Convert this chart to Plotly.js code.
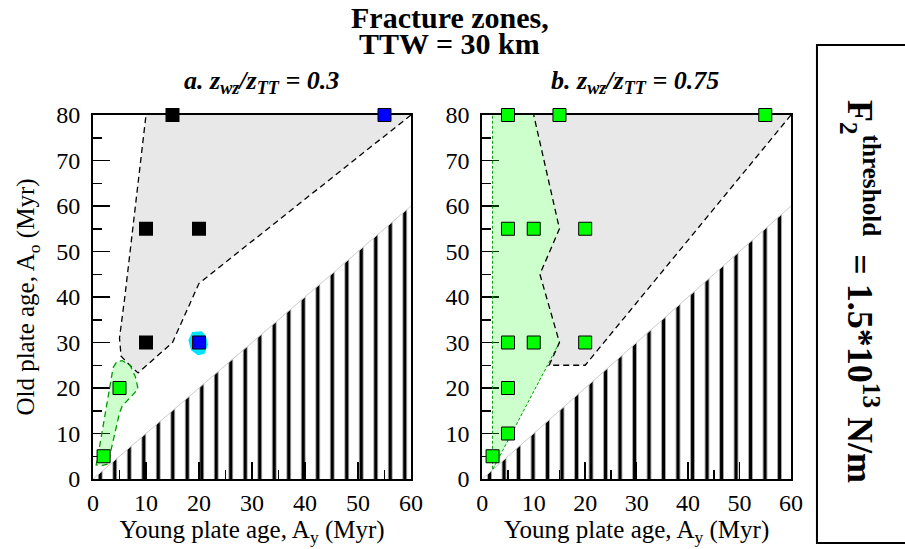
<!DOCTYPE html>
<html>
<head>
<meta charset="utf-8">
<script src="https://cdn.plot.ly/plotly-3.0.1.min.js"></script>
<style>html,body{margin:0;padding:0;background:#fff;}#chart{width:905px;height:549px;}</style>
</head>
<body>
<div id="chart"></div>
<script>
// ---------- data ----------
// Panel a (z_wz/z_TT = 0.3)
const aBlackX = [15, 10, 20, 10];
const aBlackY = [80, 55, 55, 30];
const aBlueX = [55, 20];
const aBlueY = [80, 30];
const aGreenX = [5, 2];
const aGreenY = [20, 5];
const aGrayRegionX = [10, 60, 20, 15, 8.5, 6.5, 5.3, 5, 6, 10];
const aGrayRegionY = [80, 80, 43, 30, 23.3, 25.5, 27, 31, 40, 80];
const aGreenRegionX = [3.8, 4.5, 5.5, 7, 8, 8.5, 7.5, 5.5, 5, 3.3, 2.8, 1.8, 0.6, 1, 3.8];
const aGreenRegionY = [24.5, 25.8, 26, 25, 22.5, 19.8, 18.5, 16, 14.5, 6, 3.3, 3, 3.1, 5.5, 24.5];
const aCyanRegionX = [18.7, 20.5, 21.3, 21.7, 21, 19.8, 18.5, 18, 18.7];
const aCyanRegionY = [32.3, 32.5, 31.5, 29.5, 27.5, 27.2, 28.3, 30.5, 32.3];

// Panel b (z_wz/z_TT = 0.75)
const bGreenX = [5, 15, 55, 5, 10, 20, 5, 10, 20, 5, 5, 2];
const bGreenY = [80, 80, 80, 55, 55, 55, 30, 30, 30, 20, 10, 5];
const bGrayRegionX = [10, 60, 20, 13, 15, 11.2, 15, 10];
const bGrayRegionY = [80, 80, 25, 25, 30, 45, 55, 80];
const bGreenRegionX = [2, 10, 15, 11.2, 15, 2, 2];
const bGreenRegionY = [80, 80, 55, 45, 30, 2, 80];

// Excluded zone (A_o < A_y) and diagonal
const hatchX = [0, 60, 60, 0];
const hatchY = [0, 60, 0, 0];
const diagX = [0, 60];
const diagY = [0, 60];

// Axis ranges / ticks
const xRange = [0, 60];
const yRange = [0, 80];
const majorStep = 10;
const minorStep = 5;

// ---------- styling ----------
const FONT = '"Liberation Serif", "Times New Roman", Times, serif';
const GRAY_FILL = 'rgba(0,0,0,0.09)';
const GREEN_FILL = 'rgba(0,255,0,0.2)';
const dashBlack = {color: 'black', width: 1.3, dash: '6px,4px'};
const dashGreenA = {color: '#009900', width: 1.3, dash: '6px,4px'};
const dashGreenB = {color: '#009900', width: 1, dash: '3px,2px'};

function fillTrace(x, y, color, xa, ya) {
  return {x, y, xaxis: xa, yaxis: ya, type: 'scatter', mode: 'lines', fill: 'toself',
    fillcolor: color, line: {width: 0, color: 'rgba(0,0,0,0)'}, hoverinfo: 'skip'};
}
function lineTrace(x, y, line, xa, ya) {
  return {x, y, xaxis: xa, yaxis: ya, type: 'scatter', mode: 'lines', line, hoverinfo: 'skip'};
}
function markerTrace(x, y, color, outline, size, xa, ya) {
  return {x, y, xaxis: xa, yaxis: ya, type: 'scatter', mode: 'markers', cliponaxis: false,
    marker: {symbol: 'square', size, color, line: {width: outline ? 1 : 0, color: 'black'}}};
}
function hatchTrace(xa, ya) {
  return {x: hatchX, y: hatchY, xaxis: xa, yaxis: ya, type: 'scatter', mode: 'lines', fill: 'toself',
    fillcolor: 'rgba(0,0,0,0)', line: {width: 0, color: 'rgba(0,0,0,0)'},
    fillpattern: {shape: '|', size: 14.5, solidity: 0.25, fgcolor: 'black', fgopacity: 1, bgcolor: 'rgba(0,0,0,0)', fillmode: 'overlay'},
    hoverinfo: 'skip'};
}

// polygon border lines excluding the edge along the top axis
function openBorder(xs, ys) { return [xs.slice(1), ys.slice(1)]; }
const aGrayBorder = openBorder(aGrayRegionX, aGrayRegionY);
const bGrayBorder = openBorder(bGrayRegionX, bGrayRegionY);
const bGreenBorderX = bGreenRegionX.slice(4, 7);
const bGreenBorderY = bGreenRegionY.slice(4, 7);

const traces = [
  // panel a
  hatchTrace('x', 'y'),
  lineTrace(diagX, diagY, {color: '#cccccc', width: 1}, 'x', 'y'),
  fillTrace(aGrayRegionX, aGrayRegionY, GRAY_FILL, 'x', 'y'),
  lineTrace(aGrayBorder[0], aGrayBorder[1], dashBlack, 'x', 'y'),
  fillTrace(aGreenRegionX, aGreenRegionY, GREEN_FILL, 'x', 'y'),
  lineTrace(aGreenRegionX, aGreenRegionY, dashGreenA, 'x', 'y'),
  fillTrace(aCyanRegionX, aCyanRegionY, '#00e5ff', 'x', 'y'),
  markerTrace(aBlackX, aBlackY, 'black', false, 14, 'x', 'y'),
  markerTrace(aBlueX, aBlueY, '#0000ff', true, 13, 'x', 'y'),
  markerTrace(aGreenX, aGreenY, '#00ff00', true, 13, 'x', 'y'),
  // panel b
  hatchTrace('x2', 'y2'),
  lineTrace(diagX, diagY, {color: '#cccccc', width: 1}, 'x2', 'y2'),
  fillTrace(bGreenRegionX, bGreenRegionY, GREEN_FILL, 'x2', 'y2'),
  lineTrace(bGreenBorderX, bGreenBorderY, dashGreenB, 'x2', 'y2'),
  fillTrace(bGrayRegionX, bGrayRegionY, GRAY_FILL, 'x2', 'y2'),
  lineTrace(bGrayBorder[0], bGrayBorder[1], dashBlack, 'x2', 'y2'),
  markerTrace(bGreenX, bGreenY, '#00ff00', true, 13, 'x2', 'y2')
];

const tickfont = {family: FONT, size: 24, color: 'black'};
const titlefont = {family: FONT, size: 25, color: 'black'};

function mainX(domain, anchor) {
  return {domain, anchor, range: xRange, dtick: majorStep, tick0: 0, ticks: 'inside', ticklen: 17,
    tickwidth: 1.5, tickcolor: 'black',
    minor: {dtick: minorStep, tick0: 0, ticks: 'inside', ticklen: 9, tickwidth: 1.5, tickcolor: 'black', showgrid: false},
    showline: true, linewidth: 2, linecolor: 'black', mirror: true, showgrid: false, zeroline: false,
    tickfont, ticklabelstandoff: 1, layer: 'below traces', fixedrange: true,
    title: {text: 'Young plate age, A<sub>y</sub> (Myr)', font: titlefont, standoff: 0}};
}
function mainY(anchor, title) {
  const ax = {anchor, domain: [0, 1], range: yRange, dtick: majorStep, tick0: 0, ticks: 'inside', ticklen: 17,
    tickwidth: 1.5, tickcolor: 'black',
    minor: {dtick: minorStep, tick0: 0, ticks: 'inside', ticklen: 9, tickwidth: 1.5, tickcolor: 'black', showgrid: false},
    showline: true, linewidth: 2, linecolor: 'black', mirror: true, showgrid: false, zeroline: false,
    tickfont, ticklabelstandoff: 6, layer: 'below traces', fixedrange: true};
  if (title) ax.title = {text: title, font: titlefont, standoff: 14};
  return ax;
}
function topX(over, anchor) {
  return {overlaying: over, anchor, side: 'top', range: xRange, dtick: minorStep, tick0: 0, ticks: 'inside',
    ticklen: 17, tickwidth: 1.5, tickcolor: 'black', showticklabels: false, showline: false,
    showgrid: false, zeroline: false, layer: 'below traces', fixedrange: true};
}
function rightY(over, anchor) {
  return {overlaying: over, anchor, side: 'right', range: yRange, dtick: minorStep, tick0: 0, ticks: 'inside',
    ticklen: 17, tickwidth: 1.5, tickcolor: 'black', showticklabels: false, showline: false,
    showgrid: false, zeroline: false, layer: 'below traces', fixedrange: true};
}

const layout = {
  width: 905, height: 549,
  margin: {l: 93, r: 114, t: 115, b: 70},
  paper_bgcolor: 'white', plot_bgcolor: 'white',
  showlegend: false,
  font: {family: FONT, color: 'black'},
  xaxis: mainX([0, 0.4556], 'y'),
  yaxis: mainY('x', 'Old plate age, A<sub>o</sub> (Myr)'),
  xaxis2: mainX([0.5577, 1], 'y2'),
  yaxis2: mainY('x2', null),
  xaxis3: topX('x', 'y'),
  yaxis3: rightY('y', 'x'),
  xaxis4: topX('x2', 'y2'),
  yaxis4: rightY('y2', 'x2'),
  annotations: [
    {text: '<b>Fracture zones,</b>', xref: 'paper', yref: 'paper', x: 0.511, y: 1.2692,
      xanchor: 'center', yanchor: 'middle', showarrow: false, font: {family: FONT, size: 30}},
    {text: '<b>TTW = 30 km</b>', xref: 'paper', yref: 'paper', x: 0.511, y: 1.1951,
      xanchor: 'center', yanchor: 'middle', showarrow: false, font: {family: FONT, size: 30}},
    {text: '<b><i>a. z<sub>wz</sub>/z<sub>TT</sub> = 0.3</i></b>', xref: 'paper', yref: 'paper',
      x: 0.242, y: 1.0907, xanchor: 'center', yanchor: 'middle', showarrow: false, font: {family: FONT, size: 26}},
    {text: '<b><i>b. z<sub>wz</sub>/z<sub>TT</sub> = 0.75</i></b>', xref: 'paper', yref: 'paper',
      x: 0.7765, y: 1.0907, xanchor: 'center', yanchor: 'middle', showarrow: false, font: {family: FONT, size: 26}},
    {text: '<b>F<sub>2</sub><sup>threshold</sup>  = 1.5*10<sup>13</sup> N/m</b>', xref: 'paper', yref: 'paper',
      x: 1.0989, y: 0.5165, xanchor: 'center', yanchor: 'middle', textangle: 90, showarrow: false,
      font: {family: FONT, size: 36}}
  ],
  shapes: [
    {type: 'rect', xref: 'paper', yref: 'paper', x0: 1.0372, x1: 1.17, y0: -0.1758, y1: 1.1923,
      line: {color: 'black', width: 2}, fillcolor: 'rgba(0,0,0,0)', layer: 'above'}
  ]
};

Plotly.newPlot('chart', traces, layout, {displayModeBar: false, staticPlot: true});
</script>
</body>
</html>
